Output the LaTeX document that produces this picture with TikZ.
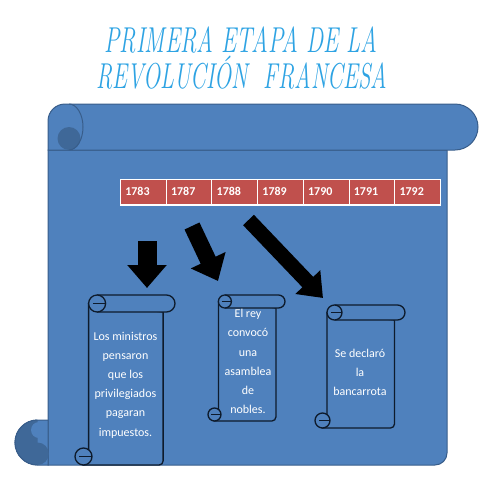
\documentclass[tikz,border=0pt]{standalone}
\usepackage{fontspec}
\usepackage{graphicx}
\newfontfamily\calib{Carlito}
\usepackage{tikz}
\usetikzlibrary{arrows.meta}

\definecolor{scrollblue}{HTML}{4F81BD}
\definecolor{scrollline}{HTML}{385D8A}
\definecolor{curldark}{HTML}{3F6898}
\definecolor{yearred}{HTML}{C0504D}
\definecolor{titleblue}{HTML}{2EA3E3}
\definecolor{inkblue}{HTML}{0E1B2C}

% small vertical scroll: left, top, right, bottom, roll size
\newcommand{\vscroll}[5]{%
  \pgfmathsetmacro\sL{#1}\pgfmathsetmacro\sT{#2}\pgfmathsetmacro\sR{#3}%
  \pgfmathsetmacro\sB{#4}\pgfmathsetmacro\sd{#5}\pgfmathsetmacro\sh{#5/2}%
  \pgfmathsetmacro\sxl{\sL+0.8*\sd}\pgfmathsetmacro\sxr{\sR-0.7*\sd}%
  \filldraw[smallscroll] (\sxl,{\sT+\sh}) -- (\sxl,{\sB-\sh}) -- ({\sL+\sh},\sB)
    -- ({\sxr-4},\sB) arc[start angle=90,end angle=0,radius=4] -- (\sxr,{\sT+\sd}) -- cycle;
  \filldraw[smallscroll] ({\sxl+\sh},\sT) -- ({\sR-\sh},\sT) arc[start angle=270,end angle=450,radius=\sh]
    -- ({\sxl+\sh},{\sT+\sd}) arc[start angle=90,end angle=270,radius=\sh] -- cycle;
  \draw[smallscroll] ({\sxl+\sh},\sT) arc[start angle=270,end angle=450,radius=\sh];
  \draw[smallscroll] ({\sxl+\sd/4},{\sT+\sh}) -- ({\sxl+\sd},{\sT+\sh});
  \filldraw[smallscroll] ({\sL+\sh},{\sB-\sh}) circle[radius=\sh];
  \draw[smallscroll] ({\sL+\sd/4},{\sB-\sh}) -- ({\sL+\sd},{\sB-\sh});
}

\begin{document}
\begin{tikzpicture}[
  x=1pt, y=-1pt,
  bigscroll/.style={draw=scrollline, fill=scrollblue, line width=1pt},
  smallscroll/.style={draw=inkblue, fill=scrollblue, line width=1.3pt},
  yearcell/.style={rectangle, draw=white, line width=0.6pt, fill=yearred, text=white, anchor=north west,
    minimum width=45.71pt, minimum height=25pt, inner xsep=5pt, inner ysep=0pt, text width=35.71pt, align=left,
    font=\calib\bfseries\fontsize{12}{14}\selectfont},
  scrolltext/.style={text=white, align=center, inner sep=0pt, font=\calib\fontsize{12}{19.2}\selectfont},
  titletext/.style={text=titleblue, anchor=base, inner sep=0pt, font=\itshape\fontsize{36}{40}\selectfont},
  blockarrow/.style={draw=black, line cap=butt}
]
\useasboundingbox (0,0) rectangle (480,480);

% Title
\node[titletext] (title1) at (241,52) {\scalebox{0.64}[1]{PRIMERA ETAPA DE LA}};
\node[titletext] (title2) at (242,88) {\scalebox{0.63}[1]{REVOLUCIÓN\ \ FRANCESA}};

% Big scroll
\filldraw[bigscroll] (48,150) -- (48,465) -- (435,465) arc[start angle=90,end angle=0,radius=12] -- (447,150) -- cycle;
\filldraw[bigscroll] (48,420) -- (37.5,420) arc[start angle=270,end angle=90,radius=22.5] -- (48,465) -- cycle;
\fill[curldark] (37.5,420) arc[start angle=270,end angle=90,radius=22.5] -- cycle;
\fill[curldark] (37.5,453.75) circle[radius=11.25];
\fill[scrollblue] (39,430) circle[radius=8];
\draw[scrollline, line width=1pt] (37.5,420) arc[start angle=270,end angle=90,radius=22.5];
\filldraw[bigscroll] (48,150) -- (48,121) arc[start angle=180,end angle=270,radius=17] -- (455,104)
  arc[start angle=270,end angle=450,radius=23] -- cycle;
\fill[curldark] (69,138.5) circle[radius=11.5];
\draw[scrollline, line width=1pt] (69,104) arc[start angle=270,end angle=450,x radius=14,y radius=23];

% Years
\foreach \yr [count=\i] in {1783,1787,1788,1789,1790,1791,1792}
  \node[yearcell] (y\yr) at ({120+(\i-1)*45.71},179) {\yr};
\draw[white, line width=2pt] (y1783.south west) -- (y1792.south east);

% Small scrolls
\vscroll{75}{295}{175}{465}{17}
\vscroll{208}{295}{285}{421}{13}
\vscroll{315}{305}{405}{428}{15}

\node[scrolltext] (txtA) at (125.5,385) {Los ministros\\pensaron\\que los\\privilegiados\\pagaran\\impuestos.};
\node[scrolltext] (txtB) at (248,361.5) {El rey\\convocó\\una\\asamblea\\de\\nobles.};
\node[scrolltext] (txtC) at (360,372.5) {Se declaró\\la\\bancarrota};

% Arrows
\coordinate (a1s) at (147,241);
\coordinate (a1e) at (147,288);
\coordinate (a2s) at (192,226);
\coordinate (a2e) at (218,281);
\coordinate (a3s) at (248.5,220);
\coordinate (a3e) at (323,298);
\draw[blockarrow, line width=19pt, -{Triangle[length=23pt,width=38pt]}] (a1s) -- (a1e);
\draw[blockarrow, line width=16.5pt, -{Triangle[length=23pt,width=37pt]}] (a2s) -- (a2e);
\draw[blockarrow, line width=15pt, -{Triangle[length=22pt,width=33pt]}] (a3s) -- (a3e);

\end{tikzpicture}
\end{document}
